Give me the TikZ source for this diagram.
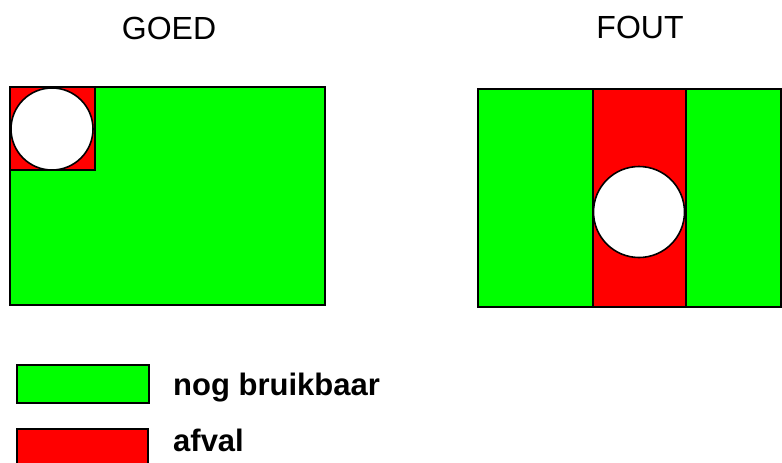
\documentclass[tikz,border=0pt]{standalone}
\usepackage{fontspec}
\setmainfont{Liberation Sans}
\definecolor{goodgreen}{RGB}{0,255,0}
\definecolor{wastered}{RGB}{255,0,0}
\begin{document}
\begin{tikzpicture}[x=1pt,y=-1pt,
  outl/.style={draw=black,line width=1.6pt},
  title/.style={anchor=base,inner sep=0pt,font=\fontsize{32}{32}\selectfont},
  legtext/.style={anchor=base west,inner sep=0pt,font=\bfseries\fontsize{31}{31}\selectfont}]
\useasboundingbox (0,0) rectangle (782,463);
% titles
\node[title] (goed) at (169,39.5) {GOED};
\node[title] (fout) at (640,38.5) {FOUT};
% left panel (GOED)
\fill[goodgreen] (10,87) rectangle (325,305);
\filldraw[fill=wastered,outl] (10,87) rectangle (95,170);
\draw[outl] (10,87) rectangle (325,305);
\filldraw[fill=white,outl] (52,129) circle (41);
% right panel (FOUT)
\fill[goodgreen] (478,89) rectangle (781,307);
\filldraw[fill=wastered,outl] (593,89) rectangle (686,307);
\draw[outl] (478,89) rectangle (781,307);
\filldraw[fill=white,outl] (639,212) circle (45.5);
% legend
\filldraw[fill=goodgreen,outl] (17,365) rectangle (149,403);
\filldraw[fill=wastered,outl] (17,429) rectangle (148,475);
\node[legtext] (usable) at (173,395) {nog bruikbaar};
\node[legtext] (waste) at (173,451) {afval};
\end{tikzpicture}
\end{document}
